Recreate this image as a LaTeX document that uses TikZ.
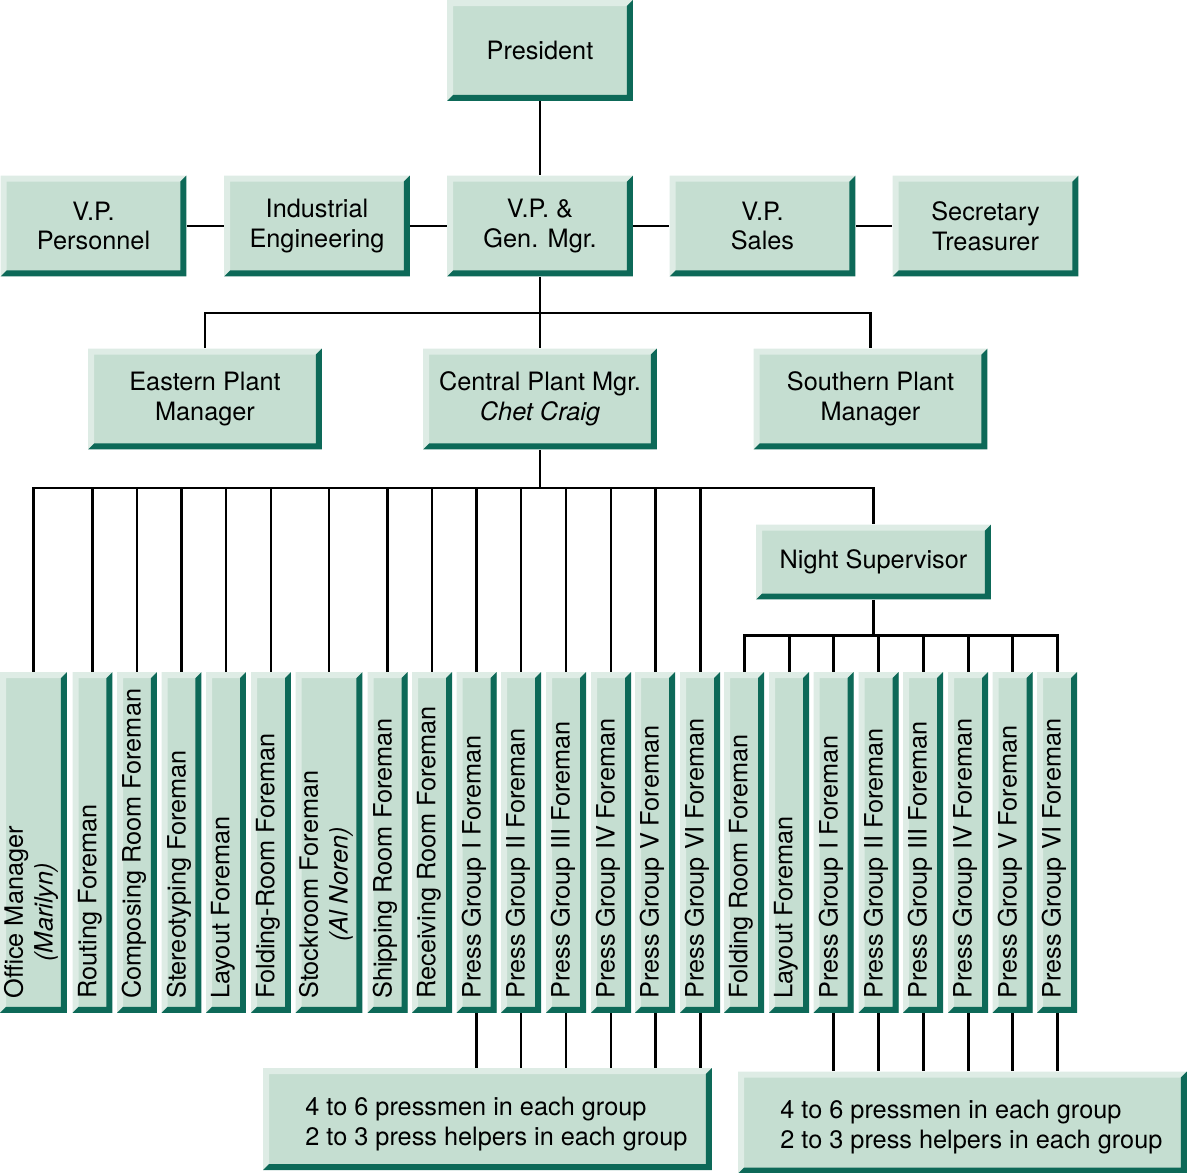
\documentclass[tikz,border=0pt]{standalone}
\usepackage{fontspec}
\setmainfont{TeX Gyre Heros}
\definecolor{boxfill}{RGB}{197,222,209}
\definecolor{boxlight}{RGB}{222,236,229}
\definecolor{boxdark}{RGB}{13,105,88}
\tikzset{
  orgbox/.style={fill=boxfill, inner sep=0pt, align=center,
    font={\fontsize{14.4}{17}\selectfont},
    path picture={
      % light bevel on top and left
      \fill[boxlight] (path picture bounding box.north west) -- (path picture bounding box.north east)
        -- ++(-0.12cm,-0.12cm) -| ([xshift=0.12cm,yshift=0.12cm]path picture bounding box.south west)
        -- (path picture bounding box.south west) -- cycle;
      % dark bevel on right and bottom
      \fill[boxdark] (path picture bounding box.north east) -- (path picture bounding box.south east)
        -- (path picture bounding box.south west) -- ++(0.12cm,0.12cm)
        -| ([xshift=-0.12cm,yshift=-0.12cm]path picture bounding box.north east) -- cycle;
    }},
  topbox/.style={orgbox, minimum width=3.72cm, minimum height=2.02cm},
  plantbox/.style={orgbox, minimum width=4.68cm, minimum height=2.02cm},
  nightbox/.style={orgbox, minimum width=4.7cm, minimum height=1.5cm},
  vbox/.style={orgbox, minimum width=0.8cm, minimum height=6.82cm},
  vwidebox/.style={orgbox, minimum width=1.34cm, minimum height=6.82cm},
  crewbox/.style={orgbox, minimum width=8.98cm, minimum height=2.04cm},
  vtext/.style={rotate=90, anchor=west, inner sep=0pt, align=center,
    font={\fontsize{14.4}{17}\selectfont}},
  crewtext/.style={anchor=west, inner sep=0pt, align=left,
    font={\fontsize{14.4}{17}\selectfont}},
  link/.style={line width=1.7pt, black}
}
\begin{document}
\begin{tikzpicture}[x=0.02cm, y=-0.02cm]
\useasboundingbox (0,0) rectangle (1187,1173);

% President
\node[topbox] (pres) at (540,50.5) {President};

% Second row
\node[topbox] (vpp) at (93.5,226) {V.P.\\Personnel};
\node[topbox] (indeng) at (317,226) {Industrial\\Engineering};
\node[topbox] (vpgm) at (540,226) {V.P. \&\\Gen. Mgr.};
\node[topbox] (vpsales) at (762.5,226) {V.P.\\Sales};
\node[topbox] (sectr) at (985.5,226) {Secretary\\Treasurer};

% Plant managers
\node[plantbox] (eastern) at (205,399) {Eastern Plant\\Manager};
\node[plantbox] (central) at (540,399) {Central Plant Mgr.\\\textit{Chet Craig}};
\node[plantbox] (southern) at (870.5,399) {Southern Plant\\Manager};

% Night supervisor
\node[nightbox] (night) at (873.5,562) {Night Supervisor};

% Foremen under the central plant manager
\node[vwidebox] (om) at (33.5,842.5) {};
\node[vtext] (omt) at (31,999) {Office Manager\\\textit{(Marilyn)}};
\node[vbox] (rout) at (92.5,842.5) {};
\node[vtext] (routt) at (90,999) {Routing Foreman};
\node[vbox] (comp) at (137,842.5) {};
\node[vtext] (compt) at (134,999) {Composing Room Foreman};
\node[vbox] (stereo) at (181.5,842.5) {};
\node[vtext] (stereot) at (179,999) {Stereotyping Foreman};
\node[vbox] (layout) at (226,842.5) {};
\node[vtext] (layoutt) at (223,999) {Layout Foreman};
\node[vbox] (fold) at (271,842.5) {};
\node[vtext] (foldt) at (268,999) {Folding-Room Foreman};
\node[vwidebox] (stock) at (329,842.5) {};
\node[vtext] (stockt) at (326,999) {Stockroom Foreman\\\textit{(Al Noren)}};
\node[vbox] (ship) at (387.5,842.5) {};
\node[vtext] (shipt) at (385,999) {Shipping Room Foreman};
\node[vbox] (recv) at (432,842.5) {};
\node[vtext] (recvt) at (429,999) {Receiving Room Foreman};
\node[vbox] (pga1) at (476.5,842.5) {};
\node[vtext] (pga1t) at (474,999) {Press Group I Foreman};
\node[vbox] (pga2) at (521,842.5) {};
\node[vtext] (pga2t) at (518,999) {Press Group II Foreman};
\node[vbox] (pga3) at (566,842.5) {};
\node[vtext] (pga3t) at (563,999) {Press Group III Foreman};
\node[vbox] (pga4) at (611,842.5) {};
\node[vtext] (pga4t) at (608,999) {Press Group IV Foreman};
\node[vbox] (pga5) at (655,842.5) {};
\node[vtext] (pga5t) at (652,999) {Press Group V Foreman};
\node[vbox] (pga6) at (700,842.5) {};
\node[vtext] (pga6t) at (697,999) {Press Group VI Foreman};

% Foremen under the night supervisor
\node[vbox] (nfold) at (744,842.5) {};
\node[vtext] (nfoldt) at (741,999) {Folding Room Foreman};
\node[vbox] (nlay) at (789,842.5) {};
\node[vtext] (nlayt) at (786,999) {Layout Foreman};
\node[vbox] (pgb1) at (833.5,842.5) {};
\node[vtext] (pgb1t) at (831,999) {Press Group I Foreman};
\node[vbox] (pgb2) at (878.5,842.5) {};
\node[vtext] (pgb2t) at (876,999) {Press Group II Foreman};
\node[vbox] (pgb3) at (923,842.5) {};
\node[vtext] (pgb3t) at (920,999) {Press Group III Foreman};
\node[vbox] (pgb4) at (968,842.5) {};
\node[vtext] (pgb4t) at (965,999) {Press Group IV Foreman};
\node[vbox] (pgb5) at (1012.5,842.5) {};
\node[vtext] (pgb5t) at (1010,999) {Press Group V Foreman};
\node[vbox] (pgb6) at (1057,842.5) {};
\node[vtext] (pgb6t) at (1054,999) {Press Group VI Foreman};

% Press crews
\node[crewbox] (crewa) at (487.5,1119) {};
\node[crewtext] (crewat) at (305,1124) {4 to 6 pressmen in each group\\2 to 3 press helpers in each group};
\node[crewbox] (crewb) at (962.5,1122.5) {};
\node[crewtext] (crewbt) at (780,1127) {4 to 6 pressmen in each group\\2 to 3 press helpers in each group};

% Links of the top rows
\draw[link] (pres.south) -- (vpgm.north);
\draw[link] (vpp.east) -- (indeng.west);
\draw[link] (indeng.east) -- (vpgm.west);
\draw[link] (vpgm.east) -- (vpsales.west);
\draw[link] (vpsales.east) -- (sectr.west);

% Links to the plant managers
\coordinate (bus1) at (540,313);
\draw[link] (vpgm.south) -- (central.north);
\draw[link] (eastern.north) |- (bus1) -| (southern.north);

% Links to the foremen of the central plant
\coordinate (bus2) at (540,488);
\draw[link] (central.south) -- (bus2);
\draw[link] (om.north) |- (bus2) -| (night.north);
\draw[link] (rout.north) -- (rout.north |- bus2);
\draw[link] (comp.north) -- (comp.north |- bus2);
\draw[link] (stereo.north) -- (stereo.north |- bus2);
\draw[link] (layout.north) -- (layout.north |- bus2);
\draw[link] (fold.north) -- (fold.north |- bus2);
\draw[link] (stock.north) -- (stock.north |- bus2);
\draw[link] (ship.north) -- (ship.north |- bus2);
\draw[link] (recv.north) -- (recv.north |- bus2);
\draw[link] (pga1.north) -- (pga1.north |- bus2);
\draw[link] (pga2.north) -- (pga2.north |- bus2);
\draw[link] (pga3.north) -- (pga3.north |- bus2);
\draw[link] (pga4.north) -- (pga4.north |- bus2);
\draw[link] (pga5.north) -- (pga5.north |- bus2);
\draw[link] (pga6.north) -- (pga6.north |- bus2);

% Links to the night foremen
\coordinate (bus3) at (873.5,635);
\draw[link] (night.south) -- (bus3);
\draw[link] (nfold.north) |- (bus3) -| (pgb6.north);
\draw[link] (nlay.north) -- (nlay.north |- bus3);
\draw[link] (pgb1.north) -- (pgb1.north |- bus3);
\draw[link] (pgb2.north) -- (pgb2.north |- bus3);
\draw[link] (pgb3.north) -- (pgb3.north |- bus3);
\draw[link] (pgb4.north) -- (pgb4.north |- bus3);
\draw[link] (pgb5.north) -- (pgb5.north |- bus3);

% Links to the press crews
\draw[link] (pga1.south) -- (pga1.south |- crewa.north);
\draw[link] (pga2.south) -- (pga2.south |- crewa.north);
\draw[link] (pga3.south) -- (pga3.south |- crewa.north);
\draw[link] (pga4.south) -- (pga4.south |- crewa.north);
\draw[link] (pga5.south) -- (pga5.south |- crewa.north);
\draw[link] (pga6.south) -- (pga6.south |- crewa.north);
\draw[link] (pgb1.south) -- (pgb1.south |- crewb.north);
\draw[link] (pgb2.south) -- (pgb2.south |- crewb.north);
\draw[link] (pgb3.south) -- (pgb3.south |- crewb.north);
\draw[link] (pgb4.south) -- (pgb4.south |- crewb.north);
\draw[link] (pgb5.south) -- (pgb5.south |- crewb.north);
\draw[link] (pgb6.south) -- (pgb6.south |- crewb.north);
\end{tikzpicture}
\end{document}
